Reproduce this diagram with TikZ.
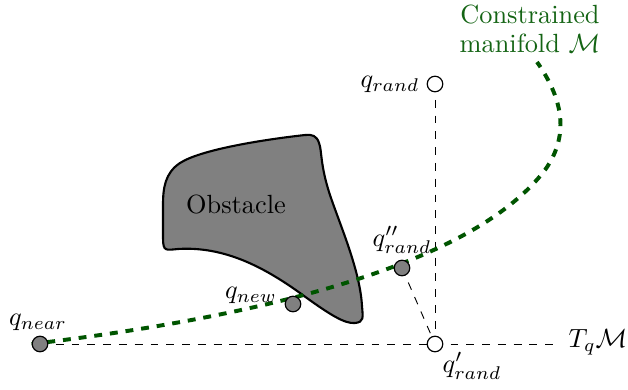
\documentclass[tikz,border=0pt]{standalone}
\usepackage{amsmath}
\pgfdeclarelayer{background}
\pgfsetlayers{background,main}
\definecolor{mangreen}{RGB}{0,85,0}
\definecolor{txtgreen}{RGB}{20,100,20}
\tikzset{
  pt/.style={circle,draw=black,line width=0.45pt,inner sep=0pt,minimum size=5.9pt},
  filledpt/.style={pt,fill=gray},
  openpt/.style={pt,fill=white},
  aux/.style={draw=black,line width=0.35pt,dash pattern=on 3pt off 3pt},
  manifold/.style={draw=mangreen,line width=1.5pt,dash pattern=on 3pt off 3pt},
  obst/.style={draw=black,line width=0.8pt,fill=gray},
  lbl/.style={inner sep=1pt}
}
\begin{document}
\begin{tikzpicture}[x=0.38pt,y=-0.38pt]
\useasboundingbox (0,0) rectangle (628,389);
% points
\node[filledpt] (qnear) at (40,344) {};
\node[openpt] (qprime) at (435,344) {};
\node[openpt] (qrand) at (435,84) {};
\node[filledpt] (qdd) at (402,268) {};
\node[filledpt] (qnew) at (293,304) {};
\coordinate (tend) at (556,344);
\coordinate (mend) at (537,62);
% labels
\node[lbl] (lnear) at (38,322) {$q_{near}$};
\node[lbl] (lnew) at (251,295) {$q_{new}$};
\node[lbl] (ldd) at (402,240) {$q''_{rand}$};
\node[lbl] (lprime) at (472,366) {$q'_{rand}$};
\node[lbl] (lrand) at (390,84) {$q_{rand}$};
\node[lbl] (ltm) at (598,342) {$T_q\mathcal{M}$};
\node[lbl,text=txtgreen,align=center] (lman) at (530,29) {Constrained\\[-1pt]manifold $\mathcal{M}$};
\begin{pgfonlayer}{background}
\draw[obst] (305,135) .. controls (260,140) and (200,150) .. (180,163)
  .. controls (165,173) and (163,188) .. (163,205)
  -- (163,238) .. controls (163,252) and (166,250) .. (178,249)
  .. controls (225,246) and (265,268) .. (300,293)
  .. controls (330,315) and (345,324) .. (355,323)
  .. controls (364,322) and (363,318) .. (362,306)
  .. controls (360,270) and (340,225) .. (330,195)
  .. controls (320,165) and (322,150) .. (319,143)
  .. controls (317,136) and (312,134) .. cycle;
\node (obs) at (236,205) {Obstacle};
\draw[aux] (qnear.center) -- (tend);
\draw[aux] (qrand.center) -- (qprime.center);
\draw[aux] (qdd.center) -- (qprime.center);
\draw[manifold] (qnear.west) .. controls (300,312) and (480,255) .. (545,170)
  .. controls (572,132) and (560,95) .. (mend);
\end{pgfonlayer}
\end{tikzpicture}
\end{document}
